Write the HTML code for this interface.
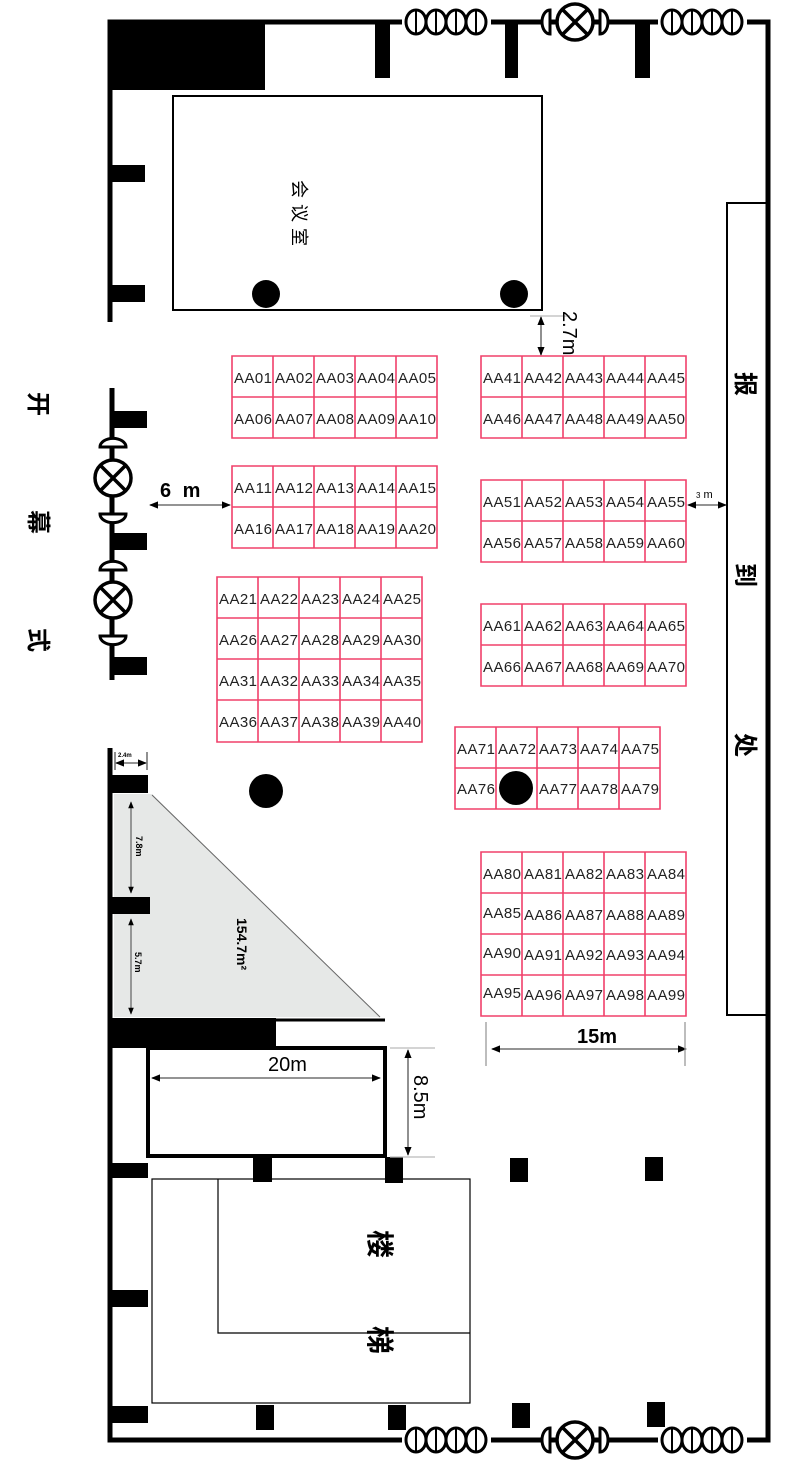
<!DOCTYPE html>
<html><head><meta charset="utf-8"><style>
html,body{margin:0;padding:0;background:#fff}
svg{display:block}
.t{font-family:"Liberation Sans",sans-serif;font-size:15px;fill:#222}
.cj{font-family:"Liberation Sans","Noto Sans CJK SC",sans-serif;fill:#000}
.g rect{fill:none}
</style></head><body>
<svg width="809" height="1467" viewBox="0 0 809 1467" xmlns="http://www.w3.org/2000/svg">
<defs>
<marker id="a" viewBox="0 0 10 10" refX="9" refY="5" markerWidth="7" markerHeight="7" orient="auto-start-reverse"><path d="M0,1 L10,5 L0,9z" fill="#000"/></marker>
<g id="door"><rect x="-2" y="-14" width="89" height="28" fill="#fff"/>
<g fill="#fff" stroke="#000" stroke-width="3"><ellipse cx="12" cy="0" rx="10" ry="12"/><ellipse cx="32" cy="0" rx="10" ry="12"/><ellipse cx="52" cy="0" rx="10" ry="12"/><ellipse cx="72" cy="0" rx="10" ry="12"/></g>
<g stroke="#000" stroke-width="2"><line x1="12" y1="-11" x2="12" y2="11"/><line x1="32" y1="-11" x2="32" y2="11"/><line x1="52" y1="-11" x2="52" y2="11"/><line x1="72" y1="-11" x2="72" y2="11"/></g></g>
<g id="lamp"><circle r="18" fill="#fff" stroke="#000" stroke-width="3.5"/><line x1="-12" y1="-12" x2="12" y2="12" stroke="#000" stroke-width="3.5"/><line x1="12" y1="-12" x2="-12" y2="12" stroke="#000" stroke-width="3.5"/></g>
</defs>

<!-- walls -->
<g stroke="#000" stroke-width="5" fill="none">
<polyline points="110,322 110,22 768,22 768,1440 110,1440 110,748"/>
<line x1="112" y1="388" x2="112" y2="680"/>
</g>
<!-- top door/lamps -->
<use href="#door" x="404" y="22"/>
<use href="#door" x="660" y="22"/>
<rect x="530" y="8" width="90" height="28" fill="#fff"/>
<line x1="530" y1="22" x2="620" y2="22" stroke="#000" stroke-width="5"/>
<path d="M550,10 A8,12 0 0 0 550,34 Z" fill="#fff" stroke="#000" stroke-width="3"/>
<path d="M600,10 A8,12 0 0 1 600,34 Z" fill="#fff" stroke="#000" stroke-width="3"/>
<use href="#lamp" x="575" y="22"/>
<!-- bottom door/lamps -->
<use href="#door" x="404" y="1440"/>
<use href="#door" x="660" y="1440"/>
<rect x="530" y="1426" width="90" height="28" fill="#fff"/>
<line x1="530" y1="1440" x2="620" y2="1440" stroke="#000" stroke-width="5"/>
<path d="M550,1428 A8,12 0 0 0 550,1452 Z" fill="#fff" stroke="#000" stroke-width="3"/>
<path d="M600,1428 A8,12 0 0 1 600,1452 Z" fill="#fff" stroke="#000" stroke-width="3"/>
<use href="#lamp" x="575" y="1440"/>
<!-- left doors -->
<path d="M100,447 A12,8 0 0 1 126,447 Z" fill="#fff" stroke="#000" stroke-width="3"/>
<path d="M100,514 A12,8 0 0 0 126,514 Z" fill="#fff" stroke="#000" stroke-width="3"/>
<path d="M100,570 A12,8 0 0 1 126,570 Z" fill="#fff" stroke="#000" stroke-width="3"/>
<path d="M100,636 A12,8 0 0 0 126,636 Z" fill="#fff" stroke="#000" stroke-width="3"/>
<use href="#lamp" x="113" y="478"/>
<use href="#lamp" x="113" y="600"/>

<!-- black blocks -->
<g fill="#000">
<rect x="110" y="22" width="155" height="68"/>
<rect x="375" y="22" width="15" height="56"/>
<rect x="505" y="22" width="13" height="56"/>
<rect x="635" y="22" width="15" height="56"/>
<rect x="110" y="165" width="35" height="17"/>
<rect x="110" y="285" width="35" height="17"/>
<rect x="110" y="411" width="37" height="17"/>
<rect x="110" y="533" width="37" height="17"/>
<rect x="110" y="657" width="37" height="18"/>
<rect x="110" y="775" width="38" height="18"/>
<rect x="110" y="897" width="40" height="17"/>
<rect x="110" y="1018" width="166" height="30"/>
<rect x="110" y="1163" width="38" height="15"/>
<rect x="110" y="1290" width="38" height="17"/>
<rect x="110" y="1406" width="38" height="17"/>
<rect x="253" y="1157" width="19" height="25"/>
<rect x="385" y="1157" width="18" height="26"/>
<rect x="510" y="1158" width="18" height="24"/>
<rect x="645" y="1157" width="18" height="24"/>
<rect x="256" y="1405" width="18" height="25"/>
<rect x="388" y="1405" width="18" height="25"/>
<rect x="512" y="1403" width="18" height="25"/>
<rect x="647" y="1402" width="18" height="25"/>
</g>

<!-- meeting room -->
<rect x="173" y="96" width="369" height="214" fill="none" stroke="#000" stroke-width="2"/>
<circle cx="266" cy="294" r="14" fill="#000"/>
<circle cx="514" cy="294" r="14" fill="#000"/>
<text class="cj" font-size="18" transform="translate(293,180) rotate(90)" letter-spacing="6">会议室</text>

<!-- registration -->
<rect x="727" y="203" width="41" height="812" fill="none" stroke="#000" stroke-width="2"/>
<text class="cj" font-size="24" font-weight="bold" transform="translate(737,372) rotate(90)">报</text>
<text class="cj" font-size="24" font-weight="bold" transform="translate(737,563) rotate(90)">到</text>
<text class="cj" font-size="24" font-weight="bold" transform="translate(737,733) rotate(90)">处</text>
<!-- 开幕式 -->
<text class="cj" font-size="24" font-weight="bold" transform="translate(30,392) rotate(90)">开</text>
<text class="cj" font-size="24" font-weight="bold" transform="translate(30,510) rotate(90)">幕</text>
<text class="cj" font-size="24" font-weight="bold" transform="translate(30,628) rotate(90)">式</text>

<!-- dimensions -->
<g stroke="#555" stroke-width="1.3" fill="none">
<line x1="150" y1="505" x2="230" y2="505" marker-start="url(#a)" marker-end="url(#a)"/>
<line x1="541" y1="317" x2="541" y2="355" marker-start="url(#a)" marker-end="url(#a)"/>
<line x1="530" y1="316" x2="570" y2="316" stroke="#bbb"/>
<line x1="688" y1="505" x2="726" y2="505" marker-start="url(#a)" marker-end="url(#a)"/>
<line x1="492" y1="1049" x2="686" y2="1049" marker-start="url(#a)" marker-end="url(#a)"/>
<line x1="486" y1="1022" x2="486" y2="1066" stroke="#999"/>
<line x1="685" y1="1022" x2="685" y2="1066" stroke="#999"/>
<line x1="408" y1="1050" x2="408" y2="1155" marker-start="url(#a)" marker-end="url(#a)"/>
<line x1="390" y1="1048" x2="435" y2="1048" stroke="#bbb"/>
<line x1="390" y1="1157" x2="435" y2="1157" stroke="#bbb"/>
<line x1="152" y1="1078" x2="380" y2="1078" marker-start="url(#a)" marker-end="url(#a)"/>
<line x1="116" y1="763" x2="146" y2="763" marker-start="url(#a)" marker-end="url(#a)"/>
<line x1="115" y1="752" x2="115" y2="770"/><line x1="147" y1="752" x2="147" y2="770"/>
</g>
<text x="160" y="497" font-family="Liberation Sans,sans-serif" font-size="20" font-weight="bold" letter-spacing="3">6 m</text>
<text transform="translate(563,311) rotate(90)" font-family="Liberation Sans,sans-serif" font-size="20">2.7m</text>
<text x="696" y="498" font-family="Liberation Sans,sans-serif" font-size="11"><tspan font-size="8">3</tspan> m</text>
<text x="577" y="1043" font-family="Liberation Sans,sans-serif" font-size="20" font-weight="bold">15m</text>
<text x="268" y="1071" font-family="Liberation Sans,sans-serif" font-size="20">20m</text>
<text transform="translate(414,1075) rotate(90)" font-family="Liberation Sans,sans-serif" font-size="20">8.5m</text>
<text x="118" y="757" font-family="Liberation Sans,sans-serif" font-size="6" font-weight="bold">2.4m</text>

<!-- triangle area -->
<polygon points="114,794 152,794 380,1017 114,1017" fill="#e6e8e7"/>
<line x1="152" y1="795" x2="380" y2="1017" stroke="#666" stroke-width="1"/>
<line x1="150" y1="1020" x2="385" y2="1020" stroke="#000" stroke-width="3"/>
<rect x="110" y="897" width="40" height="17" fill="#000"/>
<g stroke="#444" stroke-width="1" fill="none">
<line x1="131" y1="802" x2="131" y2="893" marker-start="url(#a)" marker-end="url(#a)"/>
<line x1="131" y1="919" x2="131" y2="1014" marker-start="url(#a)" marker-end="url(#a)"/>
</g>
<text transform="translate(136,836) rotate(90)" font-family="Liberation Sans,sans-serif" font-size="9" font-weight="bold">7.8m</text>
<text transform="translate(135,952) rotate(90)" font-family="Liberation Sans,sans-serif" font-size="9" font-weight="bold">5.7m</text>
<text transform="translate(237,918) rotate(90)" font-family="Liberation Sans,sans-serif" font-size="14" font-weight="bold">154.7m²</text>

<!-- 20m room -->
<rect x="148" y="1048" width="237" height="108" fill="none" stroke="#000" stroke-width="4"/>

<!-- stairs -->
<rect x="152" y="1179" width="318" height="224" fill="none" stroke="#000" stroke-width="1.2"/>
<polyline points="218,1179 218,1333 470,1333" fill="none" stroke="#000" stroke-width="1.2"/>
<text class="cj" font-size="28" font-weight="bold" transform="translate(370,1230) rotate(90)">楼</text>
<text class="cj" font-size="28" font-weight="bold" transform="translate(370,1326) rotate(90)">梯</text>

<!-- pillars -->
<circle cx="266" cy="791" r="17" fill="#000"/>

<!-- table grids -->
<g stroke="#f0406a" stroke-width="1.6" fill="none">
<path d="M232,356h205v82h-205z M232,397h205 M273,356v82 M314,356v82 M355,356v82 M396,356v82"/>
<path d="M232,466h205v82h-205z M232,507h205 M273,466v82 M314,466v82 M355,466v82 M396,466v82"/>
<path d="M217,577h205v165h-205z M217,618h205 M217,659h205 M217,700h205 M258,577v165 M299,577v165 M340,577v165 M381,577v165"/>
<path d="M481,356h205v82h-205z M481,397h205 M522,356v82 M563,356v82 M604,356v82 M645,356v82"/>
<path d="M481,480h205v82h-205z M481,521h205 M522,480v82 M563,480v82 M604,480v82 M645,480v82"/>
<path d="M481,604h205v82h-205z M481,645h205 M522,604v82 M563,604v82 M604,604v82 M645,604v82"/>
<path d="M455,727h205v82h-205z M455,768h205 M496,727v82 M537,727v82 M578,727v82 M619,727v82"/>
<path d="M481,852h205v164h-205z M481,893h205 M481,934h205 M481,975h205 M522,852v164 M563,852v164 M604,852v164 M645,852v164"/>
</g>
<circle cx="516" cy="788" r="17" fill="#000"/>

<g class="t" lengthAdjust="spacingAndGlyphs">
<text x="234" y="383" textLength="38">AA01</text><text x="275" y="383" textLength="38">AA02</text><text x="316" y="383" textLength="38">AA03</text><text x="357" y="383" textLength="38">AA04</text><text x="398" y="383" textLength="38">AA05</text>
<text x="234" y="424" textLength="38">AA06</text><text x="275" y="424" textLength="38">AA07</text><text x="316" y="424" textLength="38">AA08</text><text x="357" y="424" textLength="38">AA09</text><text x="398" y="424" textLength="38">AA10</text>
<text x="234" y="493" textLength="38">AA11</text><text x="275" y="493" textLength="38">AA12</text><text x="316" y="493" textLength="38">AA13</text><text x="357" y="493" textLength="38">AA14</text><text x="398" y="493" textLength="38">AA15</text>
<text x="234" y="534" textLength="38">AA16</text><text x="275" y="534" textLength="38">AA17</text><text x="316" y="534" textLength="38">AA18</text><text x="357" y="534" textLength="38">AA19</text><text x="398" y="534" textLength="38">AA20</text>
<text x="219" y="604" textLength="38">AA21</text><text x="260" y="604" textLength="38">AA22</text><text x="301" y="604" textLength="38">AA23</text><text x="342" y="604" textLength="38">AA24</text><text x="383" y="604" textLength="38">AA25</text>
<text x="219" y="645" textLength="38">AA26</text><text x="260" y="645" textLength="38">AA27</text><text x="301" y="645" textLength="38">AA28</text><text x="342" y="645" textLength="38">AA29</text><text x="383" y="645" textLength="38">AA30</text>
<text x="219" y="686" textLength="38">AA31</text><text x="260" y="686" textLength="38">AA32</text><text x="301" y="686" textLength="38">AA33</text><text x="342" y="686" textLength="38">AA34</text><text x="383" y="686" textLength="38">AA35</text>
<text x="219" y="727" textLength="38">AA36</text><text x="260" y="727" textLength="38">AA37</text><text x="301" y="727" textLength="38">AA38</text><text x="342" y="727" textLength="38">AA39</text><text x="383" y="727" textLength="38">AA40</text>
<text x="483" y="383" textLength="38">AA41</text><text x="524" y="383" textLength="38">AA42</text><text x="565" y="383" textLength="38">AA43</text><text x="606" y="383" textLength="38">AA44</text><text x="647" y="383" textLength="38">AA45</text>
<text x="483" y="424" textLength="38">AA46</text><text x="524" y="424" textLength="38">AA47</text><text x="565" y="424" textLength="38">AA48</text><text x="606" y="424" textLength="38">AA49</text><text x="647" y="424" textLength="38">AA50</text>
<text x="483" y="507" textLength="38">AA51</text><text x="524" y="507" textLength="38">AA52</text><text x="565" y="507" textLength="38">AA53</text><text x="606" y="507" textLength="38">AA54</text><text x="647" y="507" textLength="38">AA55</text>
<text x="483" y="548" textLength="38">AA56</text><text x="524" y="548" textLength="38">AA57</text><text x="565" y="548" textLength="38">AA58</text><text x="606" y="548" textLength="38">AA59</text><text x="647" y="548" textLength="38">AA60</text>
<text x="483" y="631" textLength="38">AA61</text><text x="524" y="631" textLength="38">AA62</text><text x="565" y="631" textLength="38">AA63</text><text x="606" y="631" textLength="38">AA64</text><text x="647" y="631" textLength="38">AA65</text>
<text x="483" y="672" textLength="38">AA66</text><text x="524" y="672" textLength="38">AA67</text><text x="565" y="672" textLength="38">AA68</text><text x="606" y="672" textLength="38">AA69</text><text x="647" y="672" textLength="38">AA70</text>
<text x="457" y="754" textLength="38">AA71</text><text x="498" y="754" textLength="38">AA72</text><text x="539" y="754" textLength="38">AA73</text><text x="580" y="754" textLength="38">AA74</text><text x="621" y="754" textLength="38">AA75</text>
<text x="457" y="794" textLength="38">AA76</text><text x="539" y="794" textLength="38">AA77</text><text x="580" y="794" textLength="38">AA78</text><text x="621" y="794" textLength="38">AA79</text>
<text x="483" y="879" textLength="38">AA80</text><text x="524" y="879" textLength="38">AA81</text><text x="565" y="879" textLength="38">AA82</text><text x="606" y="879" textLength="38">AA83</text><text x="647" y="879" textLength="38">AA84</text>
<text x="483" y="918" textLength="38">AA85</text><text x="524" y="920" textLength="38">AA86</text><text x="565" y="920" textLength="38">AA87</text><text x="606" y="920" textLength="38">AA88</text><text x="647" y="920" textLength="38">AA89</text>
<text x="483" y="958" textLength="38">AA90</text><text x="524" y="960" textLength="38">AA91</text><text x="565" y="960" textLength="38">AA92</text><text x="606" y="960" textLength="38">AA93</text><text x="647" y="960" textLength="38">AA94</text>
<text x="483" y="998" textLength="38">AA95</text><text x="524" y="1000" textLength="38">AA96</text><text x="565" y="1000" textLength="38">AA97</text><text x="606" y="1000" textLength="38">AA98</text><text x="647" y="1000" textLength="38">AA99</text>
</g>
</svg>
</body></html>
